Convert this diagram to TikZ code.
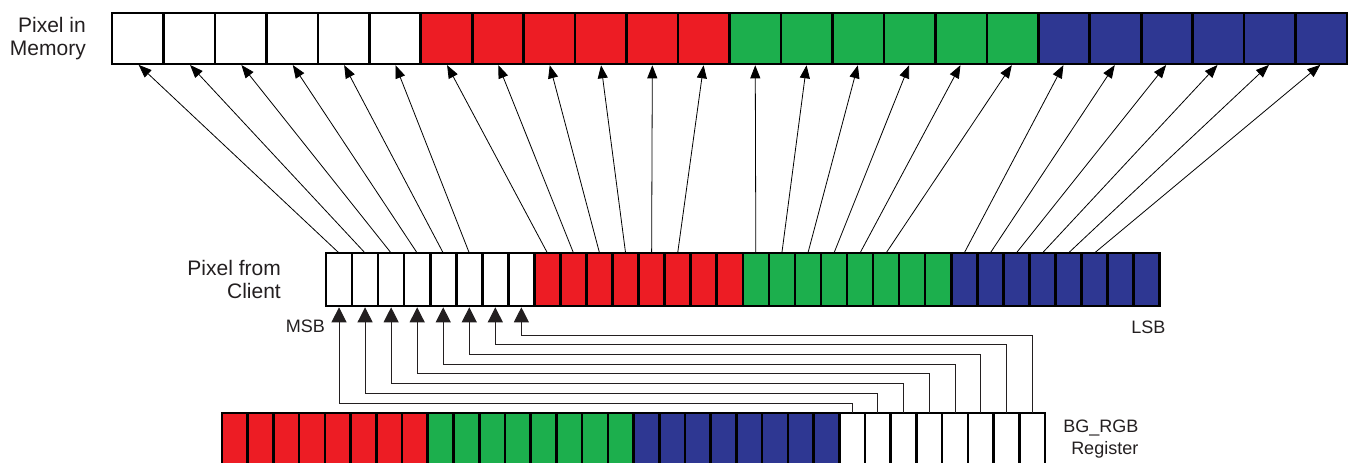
\documentclass[tikz,border=0pt]{standalone}
\usepackage{fontspec}
\setmainfont{Liberation Sans}
\usetikzlibrary{arrows.meta,positioning,calc}
\definecolor{BitRed}{RGB}{237,28,36}
\definecolor{BitGreen}{RGB}{28,175,77}
\definecolor{BitBlue}{RGB}{46,55,146}
\definecolor{InkGray}{RGB}{35,31,32}

\begin{document}
\begin{tikzpicture}[x=1pt,y=-1pt,
    memcell/.style={draw=black,line width=2.6pt,inner sep=0pt,outer sep=0pt,
      minimum width=51.46pt,minimum height=51pt},
    clientcell/.style={draw=black,line width=2.6pt,inner sep=0pt,outer sep=0pt,
      minimum width=26.05pt,minimum height=53pt},
    regcell/.style={draw=black,line width=2.6pt,inner sep=0pt,outer sep=0pt,
      minimum width=25.72pt,minimum height=53pt},
    memarrow/.style={-{Triangle[length=13pt,width=10pt]},line width=0.8pt,
      shorten >=1.3pt},
    regarrow/.style={-{Triangle[length=15pt,width=15pt]},line width=1pt,
      draw=InkGray,shorten >=1.3pt},
    bigtext/.style={font=\fontsize{21}{23.5}\selectfont,text=InkGray,inner sep=0pt},
    smalltext/.style={font=\fontsize{18}{22}\selectfont,text=InkGray,inner sep=0pt}]
      \useasboundingbox (0,0) rectangle (1349,463);
      \clip (0,0) rectangle (1349,463);

      % pixel in memory: 6 bits per channel
      \foreach \col [count=\g from 0] in {white,BitRed,BitGreen,BitBlue}
        \foreach \b in {0,...,5} {
          \pgfmathtruncatemacro\i{6*\g+\b}
          \node[memcell,fill=\col] (m\i) at ({112+51.46*(\i+0.5)},38.5) {};
        }

      % pixel from client: 8 bits per channel
      \foreach \col [count=\g from 0] in {white,BitRed,BitGreen,BitBlue}
        \foreach \b in {0,...,7} {
          \pgfmathtruncatemacro\i{8*\g+\b}
          \node[clientcell,fill=\col] (c\i) at ({326+26.05*(\i+0.5)},279.5) {};
        }

      % BG_RGB register
      \foreach \col [count=\g from 0] in {BitRed,BitGreen,BitBlue,white}
        \foreach \b in {0,...,7} {
          \pgfmathtruncatemacro\i{8*\g+\b}
          \node[regcell,fill=\col] (r\i) at ({222+25.72*(\i+0.5)},439.5) {};
        }

      % upper 6 bits of each channel go to memory
      \foreach \g in {0,...,3}
        \foreach \b in {0,...,5} {
          \pgfmathtruncatemacro\s{8*\g+\b}
          \pgfmathtruncatemacro\t{6*\g+\b}
          \draw[memarrow] (c\s.north) -- (m\t.south);
        }

      % register bits feed the client alpha byte
      \foreach \k in {0,...,7} {
        \pgfmathtruncatemacro\r{24+\k}
        \draw[regarrow] (r\r.north) -- ++(0,{-(10+9.7*\k)}) -| (c\k.south);
      }

      \node[bigtext,left=26pt of m0,align=right] (memlbl) {Pixel in\\Memory};
      \node[bigtext,left=45pt of c0,align=right] (clientlbl) {Pixel from\\Client};
      \node[smalltext,below left=14pt and 1pt of c0.south west] (msb) {MSB};
      \node[smalltext,below left=15pt and -6pt of c31.south east] (lsb) {LSB};
      \node[smalltext,right=18pt of r31,align=right] (reglbl) {BG\_RGB\\Register};
    \end{tikzpicture}
\end{document}
